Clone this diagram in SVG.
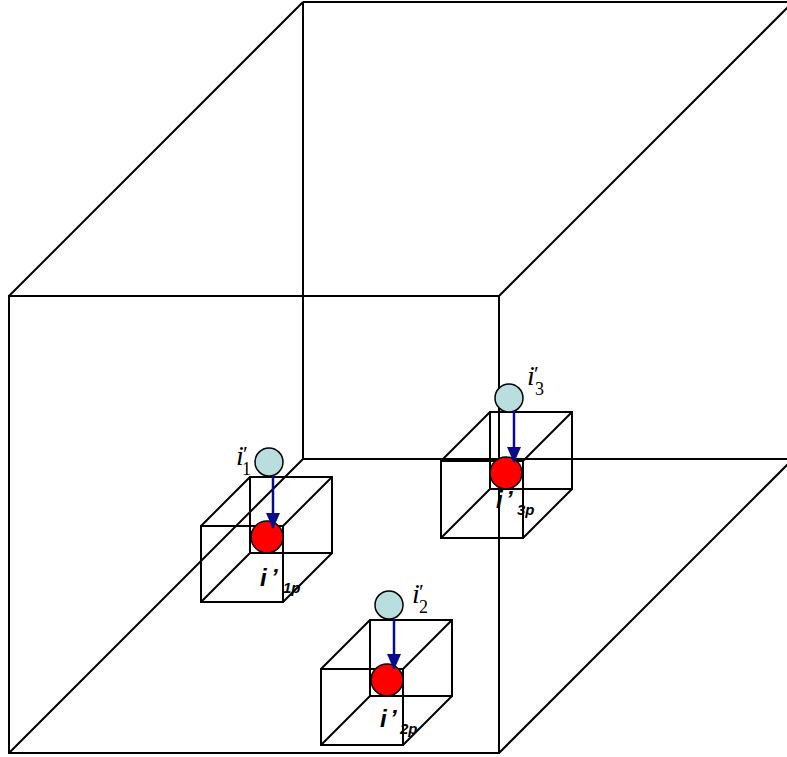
<svg xmlns="http://www.w3.org/2000/svg" width="787" height="757" viewBox="0 0 787 757">
<style>
.edge{fill:none;stroke:#000;stroke-width:2}
.sc{fill:none;stroke:#000;stroke-width:2}
.cyan{fill:#b8dee0;stroke:#000;stroke-width:1.5}
.red{fill:#ff0000;stroke:#000;stroke-width:1.5}
.arr{stroke:#0a0a8c;stroke-width:2.5;fill:none;marker-end:url(#ah)}
.mi{font-family:"Liberation Serif","Times New Roman",serif;font-style:italic;font-size:28px;fill:#000}
.mp{font-style:normal;font-size:22px}
.ms{font-style:normal;font-size:18px}
.bi{font-family:"Liberation Sans",Arial,sans-serif;font-style:italic;font-weight:bold;font-size:24px;fill:#000}
.bs{font-size:15px}
</style>
<defs>
<marker id="ah" markerUnits="userSpaceOnUse" markerWidth="16" markerHeight="14" refX="15" refY="7" orient="auto">
<path d="M0,0 L16,7 L0,14 z" fill="#0a0a8c"/>
</marker>
</defs>
<g id="big-cube">
<path class="edge" d="M9,296 H499 V753 H9 Z"/>
<path class="edge" d="M303,2 H793 M303,2 V459 H793"/>
<path class="edge" d="M9,296 L303,2 M499,296 L793,2 M9,753 L303,459 M499,753 L793,459"/>
</g>
<g id="cube1">
<path class="sc" d="M201,526 H283 V602 H201 Z M250,477 H332 V553 H250 Z M201,526 L250,477 M283,526 L332,477 M283,602 L332,553 M201,602 L250,553"/>
</g>
<g id="cube3">
<path class="sc" d="M441,461 H523 V538 H441 Z M490,412 H572 V489 H490 Z M441,461 L490,412 M523,461 L572,412 M523,538 L572,489 M441,538 L490,489"/>
</g>
<g id="cube2">
<path class="sc" d="M321,669 H403 V745 H321 Z M370,620 H452 V696 H370 Z M321,669 L370,620 M403,669 L452,620 M403,745 L452,696 M321,745 L370,696"/>
</g>
<g id="node-i1">
<circle class="cyan" cx="269" cy="462" r="14"/>
<text class="mi" x="236" y="465">i<tspan class="mp" x="243" y="461">′</tspan><tspan class="ms" x="242" y="475">1</tspan></text>
</g>
<g id="node-i1p">
<circle class="red" cx="267" cy="537" r="16"/>
<text class="bi" x="260" y="586">i<tspan x="271">’</tspan><tspan class="bs" x="283" y="593">1p</tspan></text>
</g>
<g id="node-i3">
<circle class="cyan" cx="509" cy="398" r="14"/>
<text class="mi" x="527" y="385">i<tspan class="mp" x="534" y="381">′</tspan><tspan class="ms" x="535" y="395">3</tspan></text>
</g>
<g id="node-i3p">
<circle class="red" cx="506" cy="473" r="16"/>
<text class="bi" x="496" y="508">i<tspan x="506">’</tspan><tspan class="bs" x="517" y="515">3p</tspan></text>
</g>
<g id="node-i2">
<circle class="cyan" cx="389" cy="605" r="14"/>
<text class="mi" x="412" y="603">i<tspan class="mp" x="419" y="599">′</tspan><tspan class="ms" x="419" y="613">2</tspan></text>
</g>
<g id="node-i2p">
<circle class="red" cx="387" cy="680" r="16"/>
<text class="bi" x="380" y="727">i<tspan x="390">’</tspan><tspan class="bs" x="400" y="734">2p</tspan></text>
</g>
<g id="connectors">
<path class="arr" d="M273,476 V528"/>
<path class="arr" d="M514,411 V462"/>
<path class="arr" d="M394,619 V669"/>
</g>
</svg>
